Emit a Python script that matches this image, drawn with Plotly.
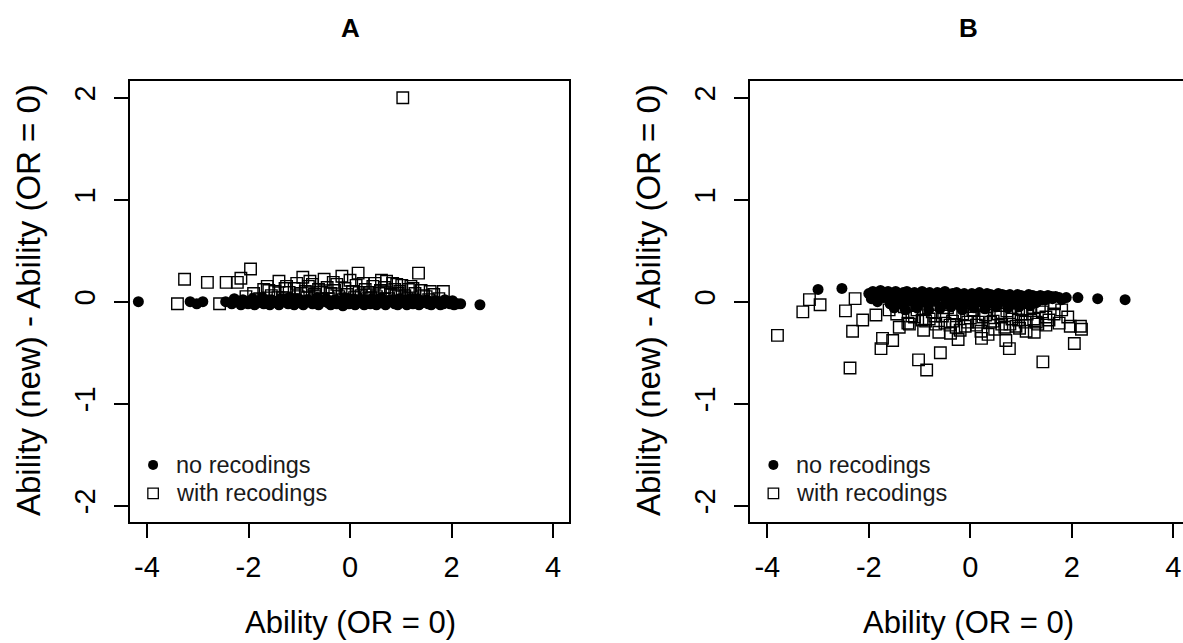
import plotly.graph_objects as go

# ---------------- data ----------------
# Panel A - no recodings (filled circles)
A_no_x = [
    -4.17, -3.15, -3.02, -2.90, -2.45, -2.33, -2.24, -2.15, -2.08, -2.01,
    -1.95, -1.88, -1.82, -1.76, -1.70, -1.64, -1.58, -1.52, -1.46, -1.40,
    -1.34, -1.28, -1.22, -1.16, -1.10, -1.04, -0.98, -0.92, -0.86, -0.80,
    -0.74, -0.68, -0.62, -0.56, -0.50, -0.44, -0.38, -0.32, -0.26, -0.20,
    -0.14, -0.08, -0.02, 0.04, 0.10, 0.16, 0.22, 0.28, 0.34, 0.40,
    0.46, 0.52, 0.58, 0.64, 0.70, 0.76, 0.82, 0.88, 0.94, 1.00,
    1.06, 1.12, 1.18, 1.24, 1.30, 1.36, 1.42, 1.48, 1.54, 1.60,
    1.66, 1.72, 1.78, 1.84, 1.90, 1.97, 2.05, 2.12, 2.18, 2.56,
    -2.28, -2.11, -1.92, -1.73, -1.55, -1.37, -1.19, -1.01, -0.83, -0.65,
    -0.47, -0.29, -0.11, 0.07, 0.25, 0.43, 0.61, 0.79, 0.97, 1.15,
    1.33, 1.51, 1.69, 1.87, 2.02]
A_no_y = [
    0.00, 0.00, -0.02, 0.00, 0.00, -0.02, 0.01, -0.03, 0.00, -0.02,
    0.01, -0.03, -0.01, 0.01, -0.02, 0.00, -0.03, 0.01, -0.01, -0.03,
    0.00, 0.02, -0.02, 0.00, -0.03, 0.01, -0.01, -0.03, 0.02, 0.00,
    -0.02, 0.01, -0.03, 0.00, 0.02, -0.01, -0.03, 0.01, -0.02, 0.00,
    -0.04, 0.01, -0.02, 0.00, -0.03, 0.02, -0.01, -0.03, 0.01, -0.02,
    0.00, -0.03, 0.01, -0.01, -0.03, 0.00, 0.01, -0.02, -0.03, 0.00,
    -0.01, -0.03, 0.01, -0.02, 0.00, -0.03, -0.01, 0.00, -0.02, -0.03,
    0.00, -0.01, -0.03, -0.02, 0.00, -0.02, -0.03, -0.02, -0.02, -0.03,
    0.03, 0.02, 0.03, 0.04, 0.02, 0.03, 0.04, 0.03, 0.02, 0.04,
    0.03, 0.02, 0.04, 0.03, 0.02, 0.03, 0.04, 0.02, 0.03, 0.02,
    0.03, 0.02, 0.01, 0.02, 0.01]

# Panel A - with recodings (open squares)
A_with_x = [
    -3.40, -3.26, -2.81, -2.57, -2.44, -2.22, -2.15, -1.96, -1.63, -1.40,
    -1.25, -0.93, -0.79, -0.51, -0.16, 0.00, 0.16, 0.62, 0.72, 0.92,
    1.04, 1.20, 1.35, 1.58, 1.84,
    -2.05, -1.90, -1.78, -1.70, -1.55, -1.48, -1.33, -1.20, -1.10, -1.02,
    -0.88, -0.82, -0.70, -0.62, -0.55, -0.45, -0.38, -0.30, -0.22, -0.10,
    -0.05, 0.05, 0.12, 0.22, 0.30, 0.38, 0.45, 0.52, 0.60, 0.68,
    0.80, 0.88, 0.98, 1.08, 1.15, 1.28, 1.40, 1.50, 1.65, 1.75,
    -1.85, -1.60, -1.42, -1.28, -1.15, -0.97, -0.85, -0.74, -0.58, -0.41,
    -0.26, -0.13, 0.09, 0.18, 0.34, 0.49, 0.57, 0.76, 0.84, 1.02,
    1.12, 1.24, 1.45, 1.55, -1.05, -0.68, -0.33, 0.26, 0.41, 0.95]
A_with_y = [
    -0.02, 0.22, 0.19, -0.02, 0.19, 0.19, 0.23, 0.32, 0.15, 0.20,
    0.15, 0.24, 0.20, 0.22, 0.25, 0.21, 0.28, 0.21, 0.20, 0.17,
    2.00, 0.15, 0.28, 0.10, 0.10,
    0.05, 0.08, 0.03, 0.12, 0.06, 0.10, 0.04, 0.09, 0.13, 0.05,
    0.10, 0.15, 0.07, 0.12, 0.03, 0.14, 0.08, 0.11, 0.05, 0.13,
    0.07, 0.10, 0.16, 0.06, 0.12, 0.09, 0.15, 0.05, 0.11, 0.14,
    0.07, 0.12, 0.10, 0.06, 0.12, 0.08, 0.11, 0.05, 0.07, 0.03,
    0.02, 0.11, 0.04, 0.13, 0.02, 0.08, 0.04, 0.17, 0.09, 0.03,
    0.17, 0.02, 0.04, 0.09, 0.03, 0.18, 0.08, 0.03, 0.18, 0.16,
    0.03, 0.13, 0.06, 0.02, 0.18, 0.05, 0.19, 0.18, 0.04, 0.08]

# Panel B - no recodings (filled circles)
B_no_x = [
    -3.00, -2.53, 1.89, 2.12, 2.51, 3.05,
    -2.00, -1.92, -1.85, -1.77, -1.70, -1.62, -1.55, -1.47, -1.40, -1.32,
    -1.25, -1.17, -1.10, -1.02, -0.95, -0.87, -0.80, -0.72, -0.65, -0.57,
    -0.50, -0.42, -0.35, -0.27, -0.20, -0.12, -0.05, 0.03, 0.10, 0.18,
    0.25, 0.33, 0.40, 0.48, 0.55, 0.63, 0.70, 0.78, 0.85, 0.93,
    1.00, 1.08, 1.15, 1.23, 1.30, 1.38, 1.45, 1.53, 1.60, 1.68, 1.75,
    -1.95, -1.83, -1.71, -1.58, -1.45, -1.33, -1.20, -1.07, -0.95, -0.83,
    -0.70, -0.58, -0.45, -0.33, -0.20, -0.08, 0.05, 0.17, 0.30, 0.42,
    0.55, 0.67, 0.80, 0.92, 1.05, 1.17, 1.30, 1.42,
    -1.88, -1.76, -1.64, -1.52, -1.39, -1.27, -1.13, -1.01, -0.89, -0.76,
    -0.64, -0.51, -0.39, -0.26, -0.14, -0.01, 0.11, 0.24, 0.36, 0.49,
    0.61, 0.74, 0.86, 0.99, 1.11, 1.24, 1.36, 1.49, 1.62, 1.80,
    -1.50, -1.28, -1.05, -0.82, -0.60, -0.38, -0.16, 0.07, 0.29, 0.51,
    0.74, 0.96, 1.18]
B_no_y = [
    0.12, 0.13, 0.04, 0.04, 0.03, 0.02,
    0.08, 0.10, 0.07, 0.11, 0.09, 0.10, 0.08, 0.10, 0.07, 0.09,
    0.10, 0.08, 0.09, 0.07, 0.10, 0.08, 0.09, 0.07, 0.09, 0.08,
    0.10, 0.07, 0.08, 0.09, 0.07, 0.08, 0.06, 0.08, 0.07, 0.09,
    0.06, 0.08, 0.07, 0.06, 0.08, 0.07, 0.06, 0.07, 0.05, 0.07,
    0.06, 0.05, 0.07, 0.06, 0.05, 0.06, 0.05, 0.06, 0.05, 0.05, 0.04,
    0.03, 0.00, 0.04, -0.02, 0.02, -0.03, 0.01, -0.04, 0.00, -0.03,
    0.01, -0.05, -0.02, 0.00, -0.04, -0.01, -0.03, 0.00, -0.04, -0.01,
    -0.02, 0.01, -0.03, 0.00, -0.02, 0.01, -0.01, 0.02,
    0.05, 0.06, 0.04, 0.05, 0.04, 0.05, 0.03, 0.05, 0.04, 0.03,
    0.05, 0.04, 0.03, 0.04, 0.02, 0.04, 0.03, 0.02, 0.04, 0.03,
    0.02, 0.03, 0.02, 0.03, 0.02, 0.03, 0.02, 0.02, 0.03, 0.02,
    -0.06, -0.08, -0.06, -0.08, -0.07, -0.05, -0.08, -0.06, -0.07, -0.05,
    -0.06, -0.05, -0.04]

# Panel B - with recodings (open squares)
B_with_x = [
    -3.80, -3.30, -3.17, -2.96, -2.46, -2.27, -2.12, -2.32, -1.86, -1.73,
    -1.53, -1.76, -2.37, -1.23, -0.92, -0.81, -1.02, -0.86, -0.59, -0.39,
    -0.24, 0.22, 0.70, 0.77, 1.26, 1.49, 1.43, 1.75, 1.92, 1.97,
    2.17, 2.19, 2.05, 1.36, 1.66, 0.21, 0.97, 1.49,
    -1.60, -1.45, -1.30, -1.15, -1.05, -0.95, -0.75, -0.68, -0.55, -0.45,
    -0.35, -0.28, -0.15, -0.05, 0.05, 0.12, 0.25, 0.33, 0.40, 0.48,
    0.55, 0.62, 0.72, 0.82, 0.90, 1.00, 1.08, 1.18, 1.25, 1.33,
    1.42, 1.55, 1.65, 1.80, -0.62, 0.35, -1.40, 1.10,
    -1.20, -1.10, -0.88, -0.70, -0.50, -0.30, -0.10, 0.00, 0.15, 0.30,
    0.45, 0.60, 0.78, 0.95, 1.12, 1.30, -0.20, 0.68, 1.02, -0.40]
B_with_y = [
    -0.33, -0.10, 0.02, -0.03, -0.09, 0.03, -0.18, -0.29, -0.13, -0.36,
    -0.38, -0.46, -0.65, -0.21, -0.28, -0.17, -0.57, -0.67, -0.50, -0.31,
    -0.37, -0.36, -0.38, -0.46, -0.30, -0.23, -0.59, -0.21, -0.15, -0.24,
    -0.24, -0.27, -0.41, -0.05, -0.02, -0.29, -0.26, -0.15,
    -0.08, -0.12, -0.05, -0.14, -0.08, -0.18, -0.10, -0.22, -0.14, -0.06,
    -0.19, -0.25, -0.12, -0.20, -0.08, -0.23, -0.15, -0.05, -0.20, -0.27,
    -0.12, -0.22, -0.09, -0.17, -0.24, -0.12, -0.20, -0.07, -0.17, -0.22,
    -0.10, -0.18, -0.12, -0.08, -0.30, -0.32, -0.25, -0.29,
    -0.22, -0.15, -0.19, -0.14, -0.21, -0.11, -0.24, -0.16, -0.20, -0.13,
    -0.19, -0.15, -0.22, -0.18, -0.12, -0.20, -0.28, -0.25, -0.08, -0.23]

panel_titles = ["A", "B"]
x_title = "Ability (OR = 0)"
y_title = "Ability (new) - Ability (OR = 0)"
legend_labels = ["no recodings", "with recodings"]
x_ticks = [-4, -2, 0, 2, 4]
x_ticktext = ["-4", "-2", "0", "2", "4"]
y_ticks = [-2, -1, 0, 1, 2]
y_ticktext = ["-2", "-1", "0", "1", "2"]

# ---------------- figure ----------------
W, H = 1183, 643
FONT = "Liberation Sans, Arial, sans-serif"
LW = 1.5

fig = go.Figure()

def add_panel(xs_no, ys_no, xs_w, ys_w, xa, ya):
    fig.add_trace(go.Scatter(x=xs_no, y=ys_no, mode="markers", xaxis=xa, yaxis=ya,
                             marker=dict(symbol="circle", size=11, color="black"),
                             showlegend=False, hoverinfo="skip"))
    fig.add_trace(go.Scatter(x=xs_w, y=ys_w, mode="markers", xaxis=xa, yaxis=ya,
                             marker=dict(symbol="square-open", size=11.5, color="black",
                                         line=dict(width=1.4, color="black")),
                             showlegend=False, hoverinfo="skip"))
    # legend (inside plot)
    fig.add_trace(go.Scatter(x=[-3.88], y=[-1.60], mode="markers", xaxis=xa, yaxis=ya,
                             marker=dict(symbol="circle", size=10, color="black"),
                             showlegend=False, hoverinfo="skip"))
    fig.add_trace(go.Scatter(x=[-3.88], y=[-1.88], mode="markers", xaxis=xa, yaxis=ya,
                             marker=dict(symbol="square-open", size=10.5, color="black",
                                         line=dict(width=1.3, color="black")),
                             showlegend=False, hoverinfo="skip"))
    for lab, yy in zip(legend_labels, [-1.60, -1.88]):
        fig.add_annotation(x=-3.47, y=yy, xref=xa, yref=ya, text=lab, showarrow=False,
                           xanchor="left", yanchor="middle",
                           font=dict(family=FONT, size=23.5, color="#1a1a1a"))

add_panel(A_no_x, A_no_y, A_with_x, A_with_y, "x", "y")
add_panel(B_no_x, B_no_y, B_with_x, B_with_y, "x2", "y2")

ydom = [1 - 522 / H, 1 - 81 / H]
axis_common = dict(showgrid=False, zeroline=False, showline=True, linecolor="black",
                   linewidth=LW, ticks="outside", ticklen=14, tickwidth=LW, tickcolor="black",
                   tickfont=dict(family=FONT, size=29, color="black"))
xcommon = dict(tickvals=x_ticks, ticktext=x_ticktext, ticklabelstandoff=4, **axis_common)
ycommon = dict(tickvals=y_ticks, ticktext=y_ticktext, tickangle=-90, ticklabelstandoff=8,
               range=[-2.16, 2.164], domain=ydom, **axis_common)

fig.update_layout(
    width=W, height=H, margin=dict(l=0, r=0, t=0, b=0),
    paper_bgcolor="white", plot_bgcolor="white", showlegend=False,
    xaxis=dict(domain=[130 / W, 569 / W], range=[-4.335, 4.315], mirror=True, anchor="y", **xcommon),
    yaxis=dict(mirror=True, anchor="x", **ycommon),
    xaxis2=dict(domain=[750 / W, 1.0], range=[-4.341, 4.191], mirror=True, anchor="y2", **xcommon),
    yaxis2=dict(mirror=False, anchor="x2", **ycommon),
)

# titles and axis titles as annotations
for t, cx, ytx in zip(panel_titles, [350, 968], [28, 648]):
    fig.add_annotation(x=cx / W, y=1 - 28 / H, xref="paper", yref="paper", text=f"<b>{t}</b>",
                       showarrow=False, xanchor="center", yanchor="middle",
                       font=dict(family=FONT, size=26, color="black"))
    fig.add_annotation(x=cx / W, y=1 - 622 / H, xref="paper", yref="paper", text=x_title,
                       showarrow=False, xanchor="center", yanchor="middle",
                       font=dict(family=FONT, size=31, color="black"))
    fig.add_annotation(x=ytx / W, y=1 - 300 / H, xref="paper", yref="paper", text=y_title,
                       showarrow=False, xanchor="center", yanchor="middle", textangle=-90,
                       font=dict(family=FONT, size=33, color="black"))

fig.write_html("out.html", config={"displayModeBar": False},
               post_script="document.body.style.margin='0';document.body.style.overflow='hidden';")
